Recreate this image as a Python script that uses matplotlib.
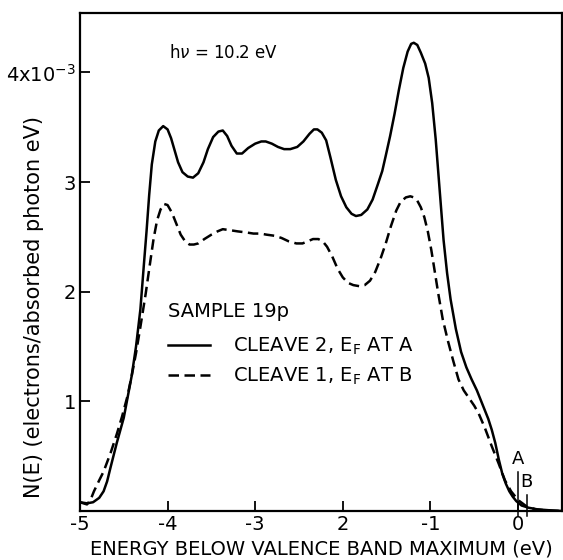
import matplotlib
matplotlib.use("Agg")
import matplotlib.pyplot as plt

# cleave 2 (solid), E_F at A
e_cleave2 = [-5.0, -4.92, -4.85, -4.78, -4.73, -4.69, -4.65, -4.58, -4.50, -4.41,
             -4.36, -4.31, -4.27, -4.24, -4.21, -4.18, -4.14, -4.10, -4.05, -4.00,
             -3.96, -3.92, -3.88, -3.83, -3.77, -3.71, -3.65, -3.59, -3.54, -3.48,
             -3.42, -3.37, -3.32, -3.27, -3.21, -3.15, -3.08, -3.00, -2.93, -2.88,
             -2.81, -2.74, -2.67, -2.60, -2.52, -2.45, -2.38, -2.33, -2.29, -2.24,
             -2.19, -2.14, -2.08, -2.02, -1.96, -1.90, -1.85, -1.79, -1.72, -1.66,
             -1.60, -1.55, -1.51, -1.46, -1.41, -1.36, -1.31, -1.26, -1.22, -1.19,
             -1.15, -1.11, -1.06, -1.02, -0.98, -0.94, -0.90, -0.85, -0.81, -0.77,
             -0.71, -0.65, -0.59, -0.53, -0.47, -0.42, -0.38, -0.34, -0.30, -0.26,
             -0.22, -0.18, -0.14, -0.10, -0.06, -0.02, 0.04, 0.12, 0.22, 0.35,
             0.5]
n_cleave2 = [0.08, 0.07, 0.08, 0.12, 0.18, 0.27, 0.40, 0.62, 0.85, 1.23,
             1.50, 1.84, 2.25, 2.55, 2.88, 3.16, 3.37, 3.47, 3.51, 3.48,
             3.40, 3.29, 3.18, 3.09, 3.05, 3.04, 3.08, 3.18, 3.30, 3.41,
             3.46, 3.47, 3.42, 3.33, 3.26, 3.26, 3.31, 3.35, 3.37, 3.37,
             3.35, 3.32, 3.30, 3.30, 3.32, 3.37, 3.44, 3.48, 3.48, 3.45,
             3.38, 3.22, 3.02, 2.87, 2.77, 2.71, 2.69, 2.70, 2.75, 2.84,
             2.98, 3.10, 3.24, 3.42, 3.62, 3.84, 4.04, 4.19, 4.26, 4.27,
             4.25, 4.18, 4.08, 3.95, 3.72, 3.39, 2.98, 2.47, 2.17, 1.93,
             1.66, 1.45, 1.31, 1.20, 1.10, 1.00, 0.92, 0.84, 0.74, 0.62,
             0.47, 0.34, 0.25, 0.18, 0.13, 0.09, 0.05, 0.03, 0.015, 0.007,
             0.0]

# cleave 1 (dashed), E_F at B
e_cleave1 = [-5.0, -4.92, -4.88, -4.84, -4.78, -4.73, -4.65, -4.58, -4.52, -4.46,
             -4.41, -4.36, -4.31, -4.25, -4.20, -4.16, -4.12, -4.08, -4.04, -4.00,
             -3.95, -3.90, -3.85, -3.80, -3.75, -3.70, -3.65, -3.58, -3.50, -3.43,
             -3.37, -3.28, -3.20, -3.10, -3.02, -2.94, -2.87, -2.78, -2.70, -2.62,
             -2.53, -2.46, -2.40, -2.34, -2.28, -2.23, -2.18, -2.12, -2.06, -2.00,
             -1.94, -1.88, -1.81, -1.75, -1.69, -1.63, -1.57, -1.51, -1.45, -1.39,
             -1.34, -1.28, -1.23, -1.19, -1.15, -1.11, -1.07, -1.03, -0.99, -0.95,
             -0.91, -0.86, -0.80, -0.74, -0.68, -0.62, -0.56, -0.50, -0.45, -0.38,
             -0.30, -0.22, -0.15, -0.08, 0.0, 0.1, 0.2, 0.35, 0.5]
n_cleave1 = [0.08, 0.06, 0.10, 0.18, 0.28, 0.36, 0.53, 0.70, 0.86, 1.04,
             1.23, 1.44, 1.68, 1.98, 2.26, 2.48, 2.65, 2.75, 2.80, 2.79,
             2.72, 2.62, 2.52, 2.46, 2.43, 2.43, 2.44, 2.48, 2.52, 2.55,
             2.57, 2.56, 2.55, 2.54, 2.53, 2.53, 2.52, 2.51, 2.49, 2.46,
             2.44, 2.44, 2.46, 2.48, 2.48, 2.46, 2.41, 2.32, 2.21, 2.13,
             2.08, 2.06, 2.05, 2.06, 2.10, 2.18, 2.30, 2.44, 2.60, 2.74,
             2.82, 2.86, 2.87, 2.86, 2.83, 2.77, 2.68, 2.55, 2.38, 2.18,
             1.98, 1.75, 1.55, 1.37, 1.20, 1.10, 1.03, 0.96, 0.89, 0.76,
             0.59, 0.43, 0.28, 0.18, 0.10, 0.04, 0.015, 0.003, 0.0]

x_ticks = [-5, -4, -3, -2, -1, 0]
x_tick_labels = ["-5", "-4", "-3", "2", "-1", "0"]
y_ticks = [1, 2, 3, 4]
y_tick_labels = ["1", "2", "3", r"4x10$^{-3}$"]
e_fermi = {"A": 0.0, "B": 0.1}

plt.rcParams['font.family'] = ['DejaVu Sans']
plt.rcParams['font.size'] = 14

fig = plt.figure(figsize=(5.63, 5.60), dpi=100)
ax = fig.add_axes([0.142, 0.0875, 0.856, 0.889])

ax.plot(e_cleave2, n_cleave2, color='black', lw=1.8, solid_joinstyle='round',
        label=r"CLEAVE 2, E$_\mathrm{F}$ AT A")
ax.plot(e_cleave1, n_cleave1, color='black', lw=1.8, dashes=(4.2, 2.2),
        label=r"CLEAVE 1, E$_\mathrm{F}$ AT B")

ax.set_xlim(-5, 0.5)
ax.set_ylim(0, 4.54)
ax.set_xticks(x_ticks)
ax.set_xticklabels(x_tick_labels)
ax.set_yticks(y_ticks)
ax.set_yticklabels(y_tick_labels)
ax.tick_params(direction='in', length=7, width=1.3, pad=3, labelsize=14)
for s in ax.spines.values():
    s.set_linewidth(1.6)

ax.set_xlabel("ENERGY BELOW VALENCE BAND MAXIMUM (eV)", fontsize=14, labelpad=4)
ax.set_ylabel("N(E) (electrons/absorbed photon eV)", fontsize=15)
ax.yaxis.set_label_coords(-0.075, 0.41)

ax.text(-3.98, 4.18, r"h$\nu$ = 10.2 eV", fontsize=12, va='center', ha='left')
ax.text(-3.99, 1.82, "SAMPLE 19p", fontsize=14, va='center', ha='left')

# Fermi level markers
ax.plot([e_fermi["A"]] * 2, [-0.05, 0.36], color='black', lw=1.1, clip_on=False)
ax.plot([e_fermi["B"]] * 2, [-0.05, 0.15], color='black', lw=1.1, clip_on=False)
ax.text(e_fermi["A"], 0.47, "A", fontsize=13, ha='center', va='center')
ax.text(e_fermi["B"], 0.26, "B", fontsize=13, ha='center', va='center')

ax.legend(loc='upper left', bbox_to_anchor=(0.183, 0.352),
          frameon=False, handlelength=2.15, handletextpad=1.2,
          labelspacing=0.45, borderaxespad=0, borderpad=0, fontsize=14)

fig.savefig("out.png", dpi=100)
